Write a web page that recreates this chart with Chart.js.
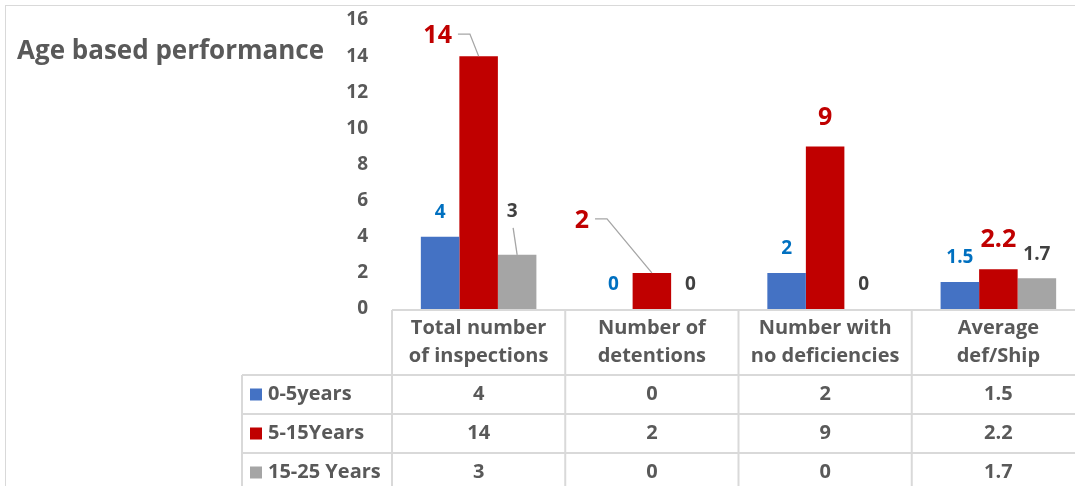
<!DOCTYPE html>
<html>
<head>
<meta charset="utf-8">
<script src="https://cdn.jsdelivr.net/npm/chart.js@4/dist/chart.umd.min.js"></script>
<style>
  html, body { margin: 0; padding: 0; background: #fff; overflow: hidden; }
  #frame { position: absolute; left: 5px; top: 5px; width: 1200px; height: 600px; border: 1px solid #d9d9d9; }
  #wrap { position: absolute; left: 0; top: 0; width: 1090px; height: 500px; }
</style>
</head>
<body>
<div id="frame"></div>
<div id="wrap"><canvas id="ageChart"></canvas></div>
<script>
// --- dados ---
const categories = [['Total number', 'of inspections'], ['Number of', 'detentions'], ['Number with', 'no deficiencies'], ['Average', 'def/Ship']];
const seriesNames = ['0-5years', '5-15Years', '15-25 Years'];
const young = [4, 0, 2, 1.5];
const middle = [14, 2, 9, 2.2];
const old = [3, 0, 0, 1.7];
const yTicks = [0, 2, 4, 6, 8, 10, 12, 14, 16];

const barColors = ['#4472C4', '#C00000', '#A5A5A5'];
const labelColors = ['#0070C0', '#C00000', '#404040'];
const textGray = '#595959';
const lineGray = '#d9d9d9';
const FONT = '"Open Sans", sans-serif';

// deslocamento de alguns rótulos (com linha guia)
const labelShift = {
    '1-0': [-41, -20],
    '1-1': [-70, -52],
    '2-0': [-5, -43]
};

const tablePlugin = {
    id: 'tablePlugin',
    afterDraw(chart) {
        const ctx = chart.ctx;
        const area = chart.chartArea;
        const x = chart.scales.x;
        const step = (area.right - area.left) / categories.length;
        const top = area.bottom + 1;
        const headBottom = top + 65;
        const rowH = 39;
        const tableLeft = 242;
        const bottom = 520;

        ctx.save();
        // título
        ctx.fillStyle = textGray;
        ctx.font = 'bold 26px ' + FONT;
        ctx.textAlign = 'left';
        ctx.textBaseline = 'middle';
        ctx.fillText('Age based performance', 17, 52);

        // linhas da tabela
        ctx.strokeStyle = lineGray;
        ctx.lineWidth = 2;
        ctx.beginPath();
        ctx.moveTo(area.left, top); ctx.lineTo(area.right, top);
        for (let r = 0; r <= seriesNames.length; r++) {
            const yy = headBottom + r * rowH;
            ctx.moveTo(tableLeft, yy); ctx.lineTo(area.right, yy);
        }
        for (let i = 0; i <= categories.length; i++) {
            const xx = area.left + i * step;
            ctx.moveTo(xx, top); ctx.lineTo(xx, bottom);
        }
        ctx.moveTo(tableLeft, headBottom); ctx.lineTo(tableLeft, bottom);
        ctx.stroke();

        // cabeçalho
        ctx.fillStyle = textGray;
        ctx.font = 'bold 20px ' + FONT;
        ctx.textAlign = 'center';
        categories.forEach((lines, i) => {
            const cx = x.getPixelForValue(i);
            ctx.fillText(lines[0], cx, top + 18);
            ctx.fillText(lines[1], cx, top + 46);
        });

        // linhas de valores + legenda
        const allData = [young, middle, old];
        seriesNames.forEach((name, r) => {
            const cy = headBottom + r * rowH + rowH / 2;
            ctx.fillStyle = barColors[r];
            ctx.fillRect(250, cy - 6, 12, 12);
            ctx.fillStyle = textGray;
            ctx.textAlign = 'left';
            ctx.fillText(name, 268, cy);
            ctx.textAlign = 'center';
            allData[r].forEach((v, i) => {
                ctx.fillText(String(v), x.getPixelForValue(i), cy);
            });
        });
        ctx.restore();
    },
    afterDatasetsDraw(chart) {
        const ctx = chart.ctx;
        ctx.save();
        ctx.textAlign = 'center';
        ctx.textBaseline = 'middle';
        chart.data.datasets.forEach((ds, d) => {
            const meta = chart.getDatasetMeta(d);
            meta.data.forEach((bar, i) => {
                const big = d === 1;
                ctx.font = 'bold ' + (big ? 25 : 19) + 'px ' + FONT;
                ctx.fillStyle = labelColors[d];
                const shift = labelShift[d + '-' + i];
                let lx = bar.x, ly = bar.y - (big ? 29 : 24);
                if (shift) {
                    lx = bar.x + shift[0];
                    ly = bar.y + shift[1];
                    ctx.strokeStyle = '#a6a6a6';
                    ctx.lineWidth = 1.3;
                    ctx.beginPath();
                    if (d === 2) {
                        ctx.moveTo(lx + 1, ly + 16);
                        ctx.lineTo(bar.x, bar.y);
                    } else {
                        const w = ctx.measureText(String(ds.data[i])).width;
                        ctx.moveTo(lx + w / 2 + 6, ly - 2);
                        ctx.lineTo(lx + w / 2 + 18, ly - 2);
                        ctx.lineTo(bar.x, bar.y);
                    }
                    ctx.stroke();
                }
                ctx.fillText(String(ds.data[i]), lx, ly);
            });
        });
        ctx.restore();
    }
};

new Chart(document.getElementById('ageChart'), {
    type: 'bar',
    data: {
        labels: categories.map(c => c.join(' ')),
        datasets: [
            { label: seriesNames[0], data: young, backgroundColor: barColors[0] },
            { label: seriesNames[1], data: middle, backgroundColor: barColors[1] },
            { label: seriesNames[2], data: old, backgroundColor: barColors[2] }
        ]
    },
    options: {
        responsive: true,
        maintainAspectRatio: false,
        animation: false,
        layout: { padding: { left: 332, right: 5, top: 20, bottom: 191 } },
        datasets: { bar: { categoryPercentage: 0.667, barPercentage: 1 } },
        plugins: { legend: { display: false }, tooltip: { enabled: false } },
        scales: {
            x: { display: false },
            y: {
                min: 0,
                max: 16,
                afterFit(scale) { scale.width = 60; scale.paddingTop = 0; scale.paddingBottom = 0; },
                afterBuildTicks(scale) { scale.ticks = yTicks.map(v => ({ value: v })); },
                grid: { display: false, drawTicks: false },
                border: { display: false },
                ticks: { padding: 24, color: textGray, font: { family: FONT, size: 19, weight: 'bold' } }
            }
        }
    },
    plugins: [tablePlugin]
});
</script>
</body>
</html>
